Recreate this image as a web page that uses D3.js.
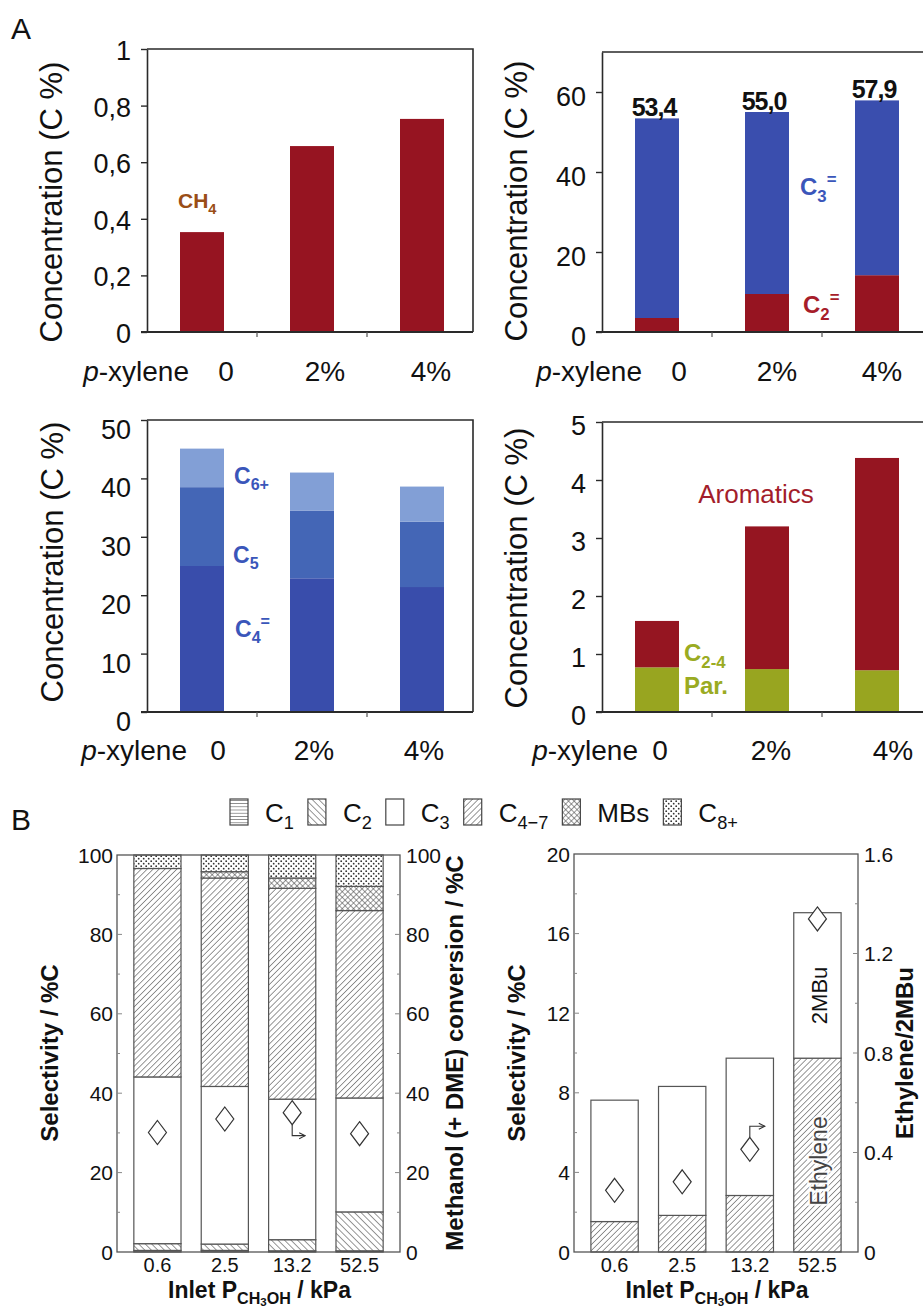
<!DOCTYPE html>
<html>
<head>
<meta charset="utf-8">
<script src="https://cdn.jsdelivr.net/npm/d3@7"></script>
<style>
  body { margin: 0; background: #fff; }
  svg { display: block; }
</style>
</head>
<body>
<script>
// ---- panel A : p-xylene co-feed ----
const pxCats = ["0", "2%", "4%"];
const ch4 = [0.353, 0.657, 0.753];
const c2ene = [3.5, 9.5, 14.2];
const c3ene = [49.9, 45.5, 43.7];
const c23Labels = ["53,4", "55,0", "57,9"];
const c4ene = [25.0, 22.9, 21.4];
const c5 = [13.5, 11.6, 11.2];
const c6plus = [6.6, 6.5, 6.0];
const par24 = [0.77, 0.74, 0.72];
const aromatics = [0.80, 2.46, 3.66];

// ---- panel B : inlet methanol pressure ----
const pressures = ["0.6", "2.5", "13.2", "52.5"];
const selC1 = [0.4, 0.4, 0.3, 0.3];
const selC2 = [1.7, 1.6, 2.8, 9.8];
const selC3 = [42.0, 39.7, 35.4, 28.7];
const selC47 = [52.5, 52.5, 53.1, 47.2];
const selMBs = [0, 1.6, 2.6, 6.1];
const selC8 = [3.4, 4.2, 5.8, 7.9];
const conversion = [30.1, 33.5, 35.1, 29.8];
const ethyleneSel = [1.53, 1.84, 2.84, 9.74];
const mbuSel = [6.10, 6.48, 6.90, 7.31];
const ethToMbu = [0.248, 0.282, 0.413, 1.339];

const W = 923, H = 1309;
const fontA = "'Liberation Sans', Arial, Helvetica, sans-serif";
const fontB = "'Liberation Sans', Arial, sans-serif";

var svg = d3.select("body").append("svg")
    .attr("width", W)
    .attr("height", H);

// hatch patterns for panel B
var defs = svg.append("defs");
function hatch(id, angle, gap) {
    var p = defs.append("pattern").attr("id", id)
        .attr("patternUnits", "userSpaceOnUse")
        .attr("width", gap).attr("height", gap)
        .attr("patternTransform", "rotate(" + angle + ")");
    p.append("rect").attr("width", gap).attr("height", gap).attr("fill", "#fff");
    p.append("line").attr("x1", 0).attr("y1", 0).attr("x2", 0).attr("y2", gap)
        .attr("stroke", "#444").attr("stroke-width", 1.1);
    return p;
}
hatch("hFwd", 45, 4.2);     // "/" lines
hatch("hBack", -45, 4.6);   // "\" lines
hatch("hHoriz", 90, 3.2);   // horizontal lines
var cross = hatch("hCross", 45, 4);
cross.append("line").attr("x1", 0).attr("y1", 0).attr("x2", 4).attr("y2", 0)
    .attr("stroke", "#444").attr("stroke-width", 1.1);
var dots = defs.append("pattern").attr("id", "hDots")
    .attr("patternUnits", "userSpaceOnUse").attr("width", 5).attr("height", 5);
dots.append("rect").attr("width", 5).attr("height", 5).attr("fill", "#fff");
dots.append("circle").attr("cx", 1.2).attr("cy", 1.2).attr("r", 0.9).attr("fill", "#333");
dots.append("circle").attr("cx", 3.7).attr("cy", 3.7).attr("r", 0.9).attr("fill", "#333");

defs.append("marker").attr("id", "arr")
    .attr("viewBox", "0 0 8 8").attr("refX", 7).attr("refY", 4)
    .attr("markerWidth", 8).attr("markerHeight", 8)
    .attr("markerUnits", "userSpaceOnUse")
    .attr("orient", "auto")
    .append("path").attr("d", "M1,1L7,4L1,7")
    .attr("fill", "none").attr("stroke", "#333").attr("stroke-width", 1.1);

// text with sub / superscripts: parts = [[text, kind], ...]
const shifts = { sub: [0.28, 0.7], sup: [-0.42, 0.7], subsub: [0.36, 0.5] };
function rich(t, parts, size) {
    var cur = 0;
    parts.forEach(function(p) {
        var s = shifts[p[1]] || [0, 1];
        var target = s[0] * size;
        t.append("tspan").attr("dy", target - cur).attr("font-size", size * s[1]).text(p[0]);
        cur = target;
    });
    return t;
}

svg.append("text").attr("x", 11).attr("y", 39).attr("font-family", fontA)
    .attr("font-size", 30).attr("fill", "#111").text("A");
svg.append("text").attr("x", 11).attr("y", 830).attr("font-family", fontA)
    .attr("font-size", 30).attr("fill", "#111").text("B");

// ================= panel A =================
function panelA(o) {
    var g = svg.append("g").attr("font-family", fontA);
    var x = d3.scaleBand().domain(pxCats).range([o.x0, o.x0 + 330])
        .paddingInner(0.6).paddingOuter(0.3);
    var y = d3.scaleLinear().domain([0, o.max]).range([o.bottom, o.top]);

    var rows = pxCats.map(function(c, i) {
        var r = { cat: c };
        o.layers.forEach(function(l) { r[l.key] = l.values[i]; });
        return r;
    });
    var series = d3.stack().keys(o.layers.map(l => l.key))(rows);
    series.forEach(function(s, k) {
        g.append("g").selectAll("rect").data(s).join("rect")
            .attr("x", d => x(d.data.cat))
            .attr("y", d => y(d[1]))
            .attr("width", x.bandwidth())
            .attr("height", d => y(d[0]) - y(d[1]))
            .attr("fill", o.layers[k].color);
    });

    // frame (top + right)
    g.append("path").attr("d", "M" + o.x0 + "," + o.top + "H" + o.right + "V" + o.bottom)
        .attr("fill", "none").attr("stroke", "#2a2a2a").attr("stroke-width", 1.6);

    var ay = g.append("g").attr("transform", "translate(" + o.x0 + ",0)")
        .call(d3.axisLeft(y).tickValues(o.ticks).tickFormat(o.fmt)
            .tickSize(6).tickSizeOuter(0).tickPadding(10));
    ay.select(".domain").attr("stroke", "#2a2a2a").attr("stroke-width", 1.6);
    ay.selectAll(".tick line").attr("stroke", "#2a2a2a").attr("stroke-width", 1.4);
    ay.selectAll("text").attr("font-size", 27).attr("font-family", fontA).attr("fill", "#111")
        .attr("dy", (0.35 * 27 + o.labelDy) + "px");

    // bottom axis with category separators
    g.append("line").attr("x1", o.x0 - 6).attr("x2", o.right)
        .attr("y1", o.bottom).attr("y2", o.bottom)
        .attr("stroke", "#2a2a2a").attr("stroke-width", 1.8);
    g.append("g").selectAll("line").data(pxCats.slice(1)).join("line")
        .attr("x1", d => x(d) - x.step() * x.paddingInner() / 2)
        .attr("x2", d => x(d) - x.step() * x.paddingInner() / 2)
        .attr("y1", o.bottom).attr("y2", o.bottom + 5)
        .attr("stroke", "#555").attr("stroke-width", 1.2);

    g.append("text").attr("transform", "translate(" + o.titleX + "," + o.titleY + ") rotate(-90)")
        .attr("text-anchor", "middle").attr("font-size", 31).attr("fill", "#111")
        .text("Concentration (C %)");

    var xl = g.append("text").attr("x", o.x0 + o.pxEnd).attr("y", o.labelY)
        .attr("text-anchor", "end").attr("font-size", 28).attr("fill", "#111");
    xl.append("tspan").attr("font-style", "italic").text("p");
    xl.append("tspan").text("-xylene");
    g.append("g").selectAll("text").data(pxCats).join("text")
        .attr("x", (d, i) => x(d) + x.bandwidth() / 2 + o.catShift[i])
        .attr("y", o.labelY)
        .attr("text-anchor", "middle").attr("font-size", 28).attr("fill", "#111")
        .text(d => d);

    if (o.annotate) o.annotate(g, x, y);
}

const commaFmt = d => d === 0 || d === 1 ? String(d) : String(d).replace(".", ",");

panelA({
    x0: 147, right: 473, top: 49, bottom: 332, max: 1,
    ticks: [0, 0.2, 0.4, 0.6, 0.8, 1], fmt: commaFmt, labelDy: 1,
    titleX: 62, titleY: 202, labelY: 381, pxEnd: 42, catShift: [24, 13, 9],
    layers: [{ key: "ch4", values: ch4, color: "#961421" }],
    annotate: function(g) {
        rich(g.append("text").attr("x", 178).attr("y", 208).attr("font-weight", "bold")
            .attr("fill", "#9a4e17"), [["CH", null], ["4", "sub"]], 21);
    }
});

panelA({
    x0: 602, right: 940, top: 52, bottom: 332, max: 70,
    ticks: [0, 20, 40, 60], fmt: d3.format("d"), labelDy: 4,
    titleX: 527, titleY: 201, labelY: 381, pxEnd: 40, catShift: [22, 10, 5],
    layers: [
        { key: "c2", values: c2ene, color: "#961421" },
        { key: "c3", values: c3ene, color: "#3a4eae" }
    ],
    annotate: function(g, x, y) {
        g.append("g").selectAll("text").data(pxCats).join("text")
            .attr("x", d => x(d) + x.bandwidth() / 2 - 3)
            .attr("y", (d, i) => y(c2ene[i] + c3ene[i]) - 2)
            .attr("text-anchor", "middle").attr("font-size", 25).attr("font-weight", "bold")
            .attr("fill", "#111").attr("letter-spacing", -1)
            .text((d, i) => c23Labels[i]);
        rich(g.append("text").attr("x", 800).attr("y", 195).attr("font-weight", "bold")
            .attr("fill", "#3a56ba"), [["C", null], ["3", "sub"], ["=", "sup"]], 24);
        rich(g.append("text").attr("x", 803).attr("y", 313).attr("font-weight", "bold")
            .attr("fill", "#a71d2a"), [["C", null], ["2", "sub"], ["=", "sup"]], 24);
    }
});

panelA({
    x0: 147, right: 473, top: 420, bottom: 712, max: 50,
    ticks: [0, 10, 20, 30, 40, 50], fmt: d3.format("d"), labelDy: 9,
    titleX: 63, titleY: 562, labelY: 760, pxEnd: 40, catShift: [16, 2, 2],
    layers: [
        { key: "c4", values: c4ene, color: "#394dab" },
        { key: "c5", values: c5, color: "#4466b6" },
        { key: "c6", values: c6plus, color: "#829fd6" }
    ],
    annotate: function(g) {
        var blue = "#3a56ba";
        rich(g.append("text").attr("x", 234).attr("y", 484).attr("font-weight", "bold")
            .attr("fill", blue), [["C", null], ["6+", "sub"]], 23);
        rich(g.append("text").attr("x", 233).attr("y", 563).attr("font-weight", "bold")
            .attr("fill", blue), [["C", null], ["5", "sub"]], 23);
        rich(g.append("text").attr("x", 235).attr("y", 637).attr("font-weight", "bold")
            .attr("fill", blue), [["C", null], ["4", "sub"], ["=", "sup"]], 23);
    }
});

panelA({
    x0: 602, right: 940, top: 422, bottom: 712, max: 5,
    ticks: [0, 1, 2, 3, 4, 5], fmt: d3.format("d"), labelDy: 3,
    titleX: 527, titleY: 568, labelY: 760, pxEnd: 36, catShift: [3, 4, 16],
    layers: [
        { key: "par", values: par24, color: "#98a520" },
        { key: "aro", values: aromatics, color: "#951521" }
    ],
    annotate: function(g) {
        g.append("text").attr("x", 756).attr("y", 503).attr("text-anchor", "middle")
            .attr("font-size", 26).attr("fill", "#a31d2b").text("Aromatics");
        rich(g.append("text").attr("x", 684).attr("y", 661).attr("font-weight", "bold")
            .attr("fill", "#9aab22"), [["C", null], ["2-4", "sub"]], 24);
        g.append("text").attr("x", 684).attr("y", 694).attr("font-weight", "bold")
            .attr("font-size", 24).attr("fill", "#9aab22").text("Par.");
    }
});

// ================= panel B =================
const frameCol = "#555";

function diamond(cx, cy) {
    return "M" + cx + "," + (cy - 12) + "L" + (cx + 9) + "," + cy + "L" + cx + "," + (cy + 12) +
        "L" + (cx - 9) + "," + cy + "Z";
}

function panelB(o) {
    var g = svg.append("g").attr("font-family", fontB);
    var x = d3.scaleBand().domain(pressures).range([o.x0, o.x1]).paddingInner(0.3).paddingOuter(0.25);
    var yL = d3.scaleLinear().domain([0, o.maxL]).range([o.bottom, o.top]);
    var yR = d3.scaleLinear().domain([0, o.maxR]).range([o.bottom, o.top]);

    var rows = pressures.map(function(p, i) {
        var r = { cat: p };
        o.layers.forEach(function(l) { r[l.key] = l.values[i]; });
        return r;
    });
    var series = d3.stack().keys(o.layers.map(l => l.key))(rows);
    series.forEach(function(s, k) {
        g.append("g").selectAll("rect").data(s.filter(d => d[1] - d[0] > 0)).join("rect")
            .attr("x", d => x(d.data.cat))
            .attr("y", d => yL(d[1]))
            .attr("width", x.bandwidth())
            .attr("height", d => yL(d[0]) - yL(d[1]))
            .attr("fill", o.layers[k].fill)
            .attr("stroke", frameCol).attr("stroke-width", 1.2);
    });

    // frame + inward ticks
    g.append("rect").attr("x", o.x0).attr("y", o.top)
        .attr("width", o.x1 - o.x0).attr("height", o.bottom - o.top)
        .attr("fill", "none").attr("stroke", frameCol).attr("stroke-width", 1.3);
    var minL = d3.range(o.ticksL.length - 1).map(i => (o.ticksL[i] + o.ticksL[i + 1]) / 2);
    var minR = d3.range(o.ticksR.length - 1).map(i => (o.ticksR[i] + o.ticksR[i + 1]) / 2);
    var tk = g.append("g").attr("stroke", "#888").attr("stroke-width", 1);
    tk.append("g").selectAll("line").data(o.ticksL.slice(1, -1)).join("line")
        .attr("x1", o.x0).attr("x2", o.x0 + 5).attr("y1", d => yL(d)).attr("y2", d => yL(d));
    tk.append("g").selectAll("line").data(minL).join("line")
        .attr("x1", o.x0).attr("x2", o.x0 + 3).attr("y1", d => yL(d)).attr("y2", d => yL(d));
    tk.append("g").selectAll("line").data(o.ticksR.slice(1, -1)).join("line")
        .attr("x1", o.x1 - 5).attr("x2", o.x1).attr("y1", d => yR(d)).attr("y2", d => yR(d));
    tk.append("g").selectAll("line").data(minR).join("line")
        .attr("x1", o.x1 - 3).attr("x2", o.x1).attr("y1", d => yR(d)).attr("y2", d => yR(d));

    g.append("g").selectAll("text").data(o.ticksL).join("text")
        .attr("x", o.x0 - 4).attr("y", d => yL(d)).attr("dy", "0.36em")
        .attr("text-anchor", "end").attr("font-size", 21).attr("fill", "#111")
        .text(o.fmtL);
    g.append("g").selectAll("text").data(o.ticksR).join("text")
        .attr("x", o.x1 + 6).attr("y", d => yR(d)).attr("dy", "0.36em")
        .attr("font-size", 21).attr("fill", "#111")
        .text(o.fmtR);

    // diamonds on right axis
    g.append("g").selectAll("path").data(o.points).join("path")
        .attr("d", (d, i) => diamond(x(pressures[i]) + x.bandwidth() / 2, yR(d)))
        .attr("fill", "#fff").attr("stroke", "#333").attr("stroke-width", 1.2);

    g.append("g").selectAll("text").data(pressures).join("text")
        .attr("x", d => x(d) + x.bandwidth() / 2).attr("y", 1272)
        .attr("text-anchor", "middle").attr("font-size", 20).attr("fill", "#111")
        .text(d => d);

    rich(g.append("text").attr("x", (o.x0 + o.x1) / 2 + 1).attr("y", 1298)
        .attr("text-anchor", "middle").attr("font-weight", "bold").attr("fill", "#111"),
        [["Inlet P", null], ["CH", "sub"], ["3", "subsub"], ["OH", "sub"], [" / kPa", null]], 23);

    g.append("text").attr("transform", "translate(" + o.titleLX + ",1053) rotate(-90)")
        .attr("text-anchor", "middle").attr("font-size", 24).attr("font-weight", "bold")
        .attr("fill", "#111").text("Selectivity / %C");
    g.append("text").attr("transform", "translate(" + o.titleRX + ",1053) rotate(-90)")
        .attr("text-anchor", "middle").attr("font-size", 24).attr("font-weight", "bold")
        .attr("fill", "#111").text(o.titleR);

    if (o.annotate) o.annotate(g, x, yL, yR);
}

panelB({
    x0: 117, x1: 400, top: 855, bottom: 1252, maxL: 100, maxR: 100,
    ticksL: [0, 20, 40, 60, 80, 100], ticksR: [0, 20, 40, 60, 80, 100],
    fmtL: d3.format("d"), fmtR: d3.format("d"),
    titleLX: 58, titleRX: 463, titleR: "Methanol (+ DME) conversion / %C",
    layers: [
        { key: "c1", values: selC1, fill: "url(#hHoriz)" },
        { key: "c2", values: selC2, fill: "url(#hBack)" },
        { key: "c3", values: selC3, fill: "#fff" },
        { key: "c47", values: selC47, fill: "url(#hFwd)" },
        { key: "mbs", values: selMBs, fill: "url(#hCross)" },
        { key: "c8", values: selC8, fill: "url(#hDots)" }
    ],
    points: conversion,
    annotate: function(g, x, yL, yR) {
        var cx = x(pressures[2]) + x.bandwidth() / 2, cy = yR(conversion[2]);
        g.append("path").attr("d", "M" + cx + "," + (cy + 12) + "V" + (cy + 23) + "H" + (cx + 13))
            .attr("fill", "none").attr("stroke", "#333").attr("stroke-width", 1.1)
            .attr("marker-end", "url(#arr)");
    }
});

panelB({
    x0: 574, x1: 858, top: 854, bottom: 1252, maxL: 20, maxR: 1.6,
    ticksL: [0, 4, 8, 12, 16, 20], ticksR: [0, 0.4, 0.8, 1.2, 1.6],
    fmtL: d3.format("d"), fmtR: d => d === 0 ? "0" : d3.format(".1f")(d),
    titleLX: 525, titleRX: 913, titleR: "Ethylene/2MBu",
    layers: [
        { key: "eth", values: ethyleneSel, fill: "url(#hFwd)" },
        { key: "mbu", values: mbuSel, fill: "#fff" }
    ],
    points: ethToMbu,
    annotate: function(g, x, yL, yR) {
        var cx = x(pressures[2]) + x.bandwidth() / 2, cy = yR(ethToMbu[2]);
        g.append("path").attr("d", "M" + cx + "," + (cy - 12) + "V" + (cy - 23) + "H" + (cx + 15))
            .attr("fill", "none").attr("stroke", "#333").attr("stroke-width", 1.1)
            .attr("marker-end", "url(#arr)");
        var bx = x(pressures[3]) + x.bandwidth() / 2 + 10;
        var yMbu = (yL(ethyleneSel[3]) + yL(ethyleneSel[3] + mbuSel[3])) / 2 + 10;
        var yEth = (yL(0) + yL(ethyleneSel[3])) / 2 + 6;
        g.append("text").attr("transform", "translate(" + bx + "," + yMbu + ") rotate(-90)")
            .attr("text-anchor", "middle").attr("font-size", 22).attr("fill", "#111").text("2MBu");
        g.append("text").attr("transform", "translate(" + bx + "," + yEth + ") rotate(-90)")
            .attr("text-anchor", "middle").attr("font-size", 23).attr("fill", "#444")
            .attr("stroke", "#fff").attr("stroke-width", 4).attr("paint-order", "stroke")
            .attr("stroke-opacity", 0.85).text("Ethylene");
    }
});

// ---- legend for panel B ----
const legendItems = [
    { parts: [["C", null], ["1", "sub"]], fill: "url(#hHoriz)" },
    { parts: [["C", null], ["2", "sub"]], fill: "url(#hBack)" },
    { parts: [["C", null], ["3", "sub"]], fill: "#fff" },
    { parts: [["C", null], ["4\u22127", "sub"]], fill: "url(#hFwd)" },
    { parts: [["MBs", null]], fill: "url(#hCross)" },
    { parts: [["C", null], ["8+", "sub"]], fill: "url(#hDots)" }
];
var leg = svg.append("g").attr("font-family", fontB);
var lx = 230;
legendItems.forEach(function(it) {
    leg.append("rect").attr("x", lx).attr("y", 799).attr("width", 18).attr("height", 26)
        .attr("fill", it.fill).attr("stroke", "#444").attr("stroke-width", 1.2);
    var t = rich(leg.append("text").attr("x", lx + 35).attr("y", 822).attr("fill", "#111"), it.parts, 26);
    lx = lx + 35 + t.node().getComputedTextLength() + 14;
});
</script>
</body>
</html>
